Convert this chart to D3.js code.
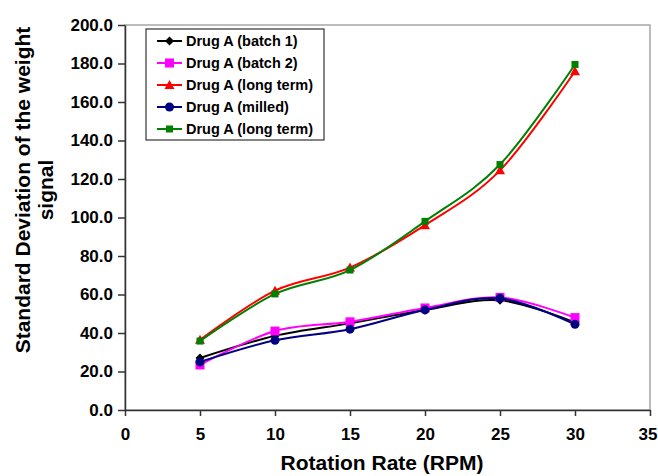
<!DOCTYPE html>
<html>
<head>
<meta charset="utf-8">
<script src="https://cdn.jsdelivr.net/npm/d3@7"></script>
<style>
  body { margin: 0; background: #fff; }
  text { font-family: "Liberation Sans", Arial, sans-serif; font-weight: bold; fill: #000; }
</style>
</head>
<body>
<script>
// data
var rpm = [5, 10, 15, 20, 25, 30];
var batch1 = [27.0, 38.5, 45.0, 52.0, 57.0, 45.5];
var batch2 = [23.4, 41.0, 45.8, 53.0, 58.5, 48.0];
var longTerm = [36.5, 62.0, 74.0, 96.0, 124.5, 176.0];
var milled = [25.0, 36.2, 42.0, 52.0, 58.0, 44.5];
var longTerm2 = [35.8, 60.3, 72.7, 98.0, 127.5, 179.5];
var seriesNames = ["Drug A (batch 1)", "Drug A (batch 2)", "Drug A (long term)", "Drug A (milled)", "Drug A (long term)"];
var xTicks = [0, 5, 10, 15, 20, 25, 30, 35];
var yTicks = [0, 20, 40, 60, 80, 100, 120, 140, 160, 180, 200];

// set the dimensions and margins of the graph
var margin = {top: 25, right: 8, bottom: 66, left: 125},
    width = 658 - margin.left - margin.right,
    height = 476 - margin.top - margin.bottom;

var series = [
  {name: seriesNames[0], values: batch1, color: "#000000", marker: "diamond"},
  {name: seriesNames[1], values: batch2, color: "#ff00ff", marker: "square"},
  {name: seriesNames[2], values: longTerm, color: "#ff0000", marker: "triangle"},
  {name: seriesNames[3], values: milled, color: "#000080", marker: "circle"},
  {name: seriesNames[4], values: longTerm2, color: "#008000", marker: "smallsquare"}
];

var x = d3.scaleLinear().domain([0, 35]).range([0, width]);
var y = d3.scaleLinear().domain([0, 200]).range([height, 0]);

var svg = d3.select("body").append("svg")
    .attr("width", 658)
    .attr("height", 476);

var g = svg.append("g")
    .attr("transform", "translate(" + margin.left + "," + margin.top + ")");

// plot area frame (top and right show grey)
g.append("rect")
    .attr("x", 0).attr("y", 0)
    .attr("width", width).attr("height", height)
    .attr("fill", "none")
    .attr("stroke", "#a6a6a6")
    .attr("stroke-width", 1.5);

// axes
var xAxis = g.append("g")
    .attr("transform", "translate(0," + height + ")")
    .call(d3.axisBottom(x).tickValues(xTicks).tickFormat(d3.format("d")).tickSize(6).tickPadding(12).tickSizeOuter(0));
var yAxis = g.append("g")
    .call(d3.axisLeft(y).tickValues(yTicks).tickFormat(d3.format(".1f")).tickSize(7).tickPadding(5).tickSizeOuter(0));

[xAxis, yAxis].forEach(function(a) {
  a.select(".domain").attr("stroke", "#333").attr("stroke-width", 1.5);
  a.selectAll(".tick line").attr("stroke", "#333").attr("stroke-width", 1.5);
  a.selectAll("text").attr("font-size", 17).attr("fill", "#000")
    .attr("font-family", "Liberation Sans, Arial, sans-serif").attr("font-weight", "bold");
});
// last x label is pulled in so it stays on the page
xAxis.selectAll(".tick text")
    .filter(function(d) { return d === 35; })
    .attr("text-anchor", "end").attr("x", 7);

// axis titles
svg.append("text")
    .attr("x", 382).attr("y", 470)
    .attr("text-anchor", "middle")
    .attr("font-size", 21)
    .text("Rotation Rate (RPM)");

var yTitle = svg.append("text")
    .attr("transform", "translate(0,190) rotate(-90)")
    .attr("text-anchor", "middle")
    .attr("font-size", 21);
yTitle.append("tspan").attr("x", 0).attr("y", 30).text("Standard Deviation of the weight");
yTitle.append("tspan").attr("x", 0).attr("y", 53).text("signal");

// lines
var line = d3.line()
    .x(function(d) { return x(d[0]); })
    .y(function(d) { return y(d[1]); })
    .curve(d3.curveCardinal.tension(0));

function drawMarker(sel, type, color) {
  if (type === "circle") {
    sel.append("circle").attr("r", 4.5).attr("fill", color);
  } else if (type === "square") {
    sel.append("rect").attr("x", -4.5).attr("y", -4.5).attr("width", 9).attr("height", 9).attr("fill", color);
  } else if (type === "smallsquare") {
    sel.append("rect").attr("x", -3.5).attr("y", -3.5).attr("width", 7).attr("height", 7).attr("fill", color);
  } else if (type === "diamond") {
    sel.append("path").attr("d", "M0,-4.5L4.5,0L0,4.5L-4.5,0Z").attr("fill", color);
  } else if (type === "triangle") {
    sel.append("path").attr("d", "M0,-5L5,4L-5,4Z").attr("fill", color);
  }
}

series.forEach(function(s) {
  var pts = rpm.map(function(r, i) { return [r, s.values[i]]; });
  g.append("path")
      .datum(pts)
      .attr("fill", "none")
      .attr("stroke", s.color)
      .attr("stroke-width", 2)
      .attr("d", line);
  pts.forEach(function(p) {
    var m = g.append("g").attr("transform", "translate(" + x(p[0]) + "," + y(p[1]) + ")");
    drawMarker(m, s.marker, s.color);
  });
});

// legend
var legend = svg.append("g").attr("transform", "translate(146,29)");
legend.append("rect")
    .attr("width", 178).attr("height", 111)
    .attr("fill", "#fff")
    .attr("stroke", "#333")
    .attr("stroke-width", 1.2);

series.forEach(function(s, i) {
  var row = legend.append("g").attr("transform", "translate(0," + (12 + i * 22) + ")");
  row.append("line")
      .attr("x1", 11).attr("x2", 36)
      .attr("stroke", s.color).attr("stroke-width", 2);
  drawMarker(row.append("g").attr("transform", "translate(23.5,0)"), s.marker, s.color);
  row.append("text")
      .attr("x", 40).attr("y", 5)
      .attr("font-size", 14.5)
      .text(s.name);
});
</script>
</body>
</html>
